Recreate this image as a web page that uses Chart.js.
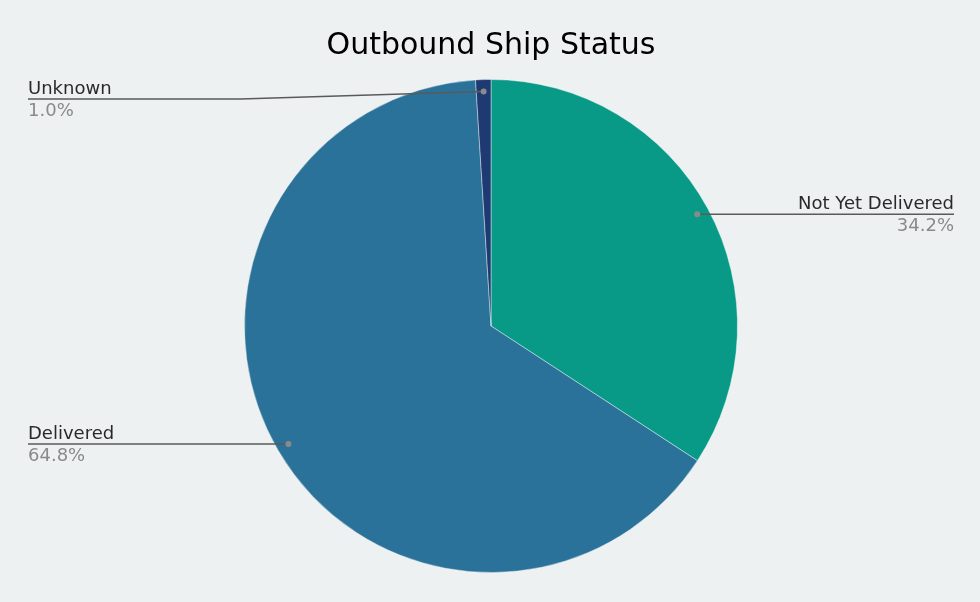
<!DOCTYPE html>
<html>
<head>
<meta charset="utf-8">
<script src="https://cdn.jsdelivr.net/npm/chart.js@4.4.1/dist/chart.umd.min.js"></script>
<style>
    html, body { margin: 0; padding: 0; background: #eef1f1; }
    #wrap { width: 980px; height: 602px; position: relative; }
</style>
</head>
<body>
<div id="wrap"><canvas id="shipChart"></canvas></div>
<script>
let title = "Outbound Ship Status";
let labels = ["Not Yet Delivered", "Delivered", "Unknown"];
let values = [34.2, 64.8, 1.0];
let colors = ["#089a87", "#2a7299", "#1f3a73"];

// draws title + outside labels with leader lines (plotly style)
let labelPlugin = {
    id: "outsideLabels",
    afterDraw(chart) {
        let ctx = chart.ctx;
        let area = chart.chartArea;
        let meta = chart.getDatasetMeta(0);
        let total = values.reduce((a, b) => a + b, 0);

        ctx.save();
        ctx.fillStyle = "#000";
        ctx.font = "30px 'DejaVu Sans'";
        ctx.textAlign = "center";
        ctx.textBaseline = "alphabetic";
        ctx.fillText(title, 491, 54);

        meta.data.forEach((arc, i) => {
            let p = arc.getProps(["x", "y", "startAngle", "endAngle", "outerRadius"], true);
            let mid = (p.startAngle + p.endAngle) / 2;
            let r = p.outerRadius - 12;
            let dx = p.x + Math.cos(mid) * r;
            let dy = p.y + Math.sin(mid) * r;
            let right = Math.cos(mid) > 0;
            let ly = Math.max(dy, area.top + 20);
            let edgeX = right ? 954 : 28;
            let elbowX = right ? p.x + p.outerRadius + 4 : p.x - p.outerRadius - 4;

            ctx.strokeStyle = "#5a5a5a";
            ctx.lineWidth = 1.5;
            ctx.beginPath();
            ctx.moveTo(dx, dy);
            ctx.lineTo(elbowX, ly);
            ctx.lineTo(edgeX, ly);
            ctx.stroke();

            ctx.fillStyle = "#8a8a8a";
            ctx.beginPath();
            ctx.arc(dx, dy, 3, 0, Math.PI * 2);
            ctx.fill();

            ctx.textAlign = right ? "right" : "left";
            ctx.font = "18px 'DejaVu Sans'";
            ctx.fillStyle = "#2a2a2a";
            ctx.fillText(labels[i], edgeX, ly - 5);
            ctx.fillStyle = "#8a8a8a";
            ctx.fillText((values[i] / total * 100).toFixed(1) + "%", edgeX, ly + 17);
        });
        ctx.restore();
    }
};

let ctx = document.querySelector("#shipChart").getContext("2d");
let myChart = new Chart(ctx, {
    type: "pie",
    data: {
        labels: labels,
        datasets: [
            {
                data: values,
                backgroundColor: colors,
                borderColor: "rgba(255, 255, 255, 0.4)",
                borderWidth: 1,
            },
        ],
    },
    options: {
        responsive: true,
        maintainAspectRatio: false,
        animation: false,
        layout: {
            padding: { top: 79, bottom: 29, left: 2, right: 0 },
        },
        plugins: {
            legend: { display: false },
            tooltip: { enabled: false },
        },
    },
    plugins: [labelPlugin],
});
</script>
</body>
</html>
